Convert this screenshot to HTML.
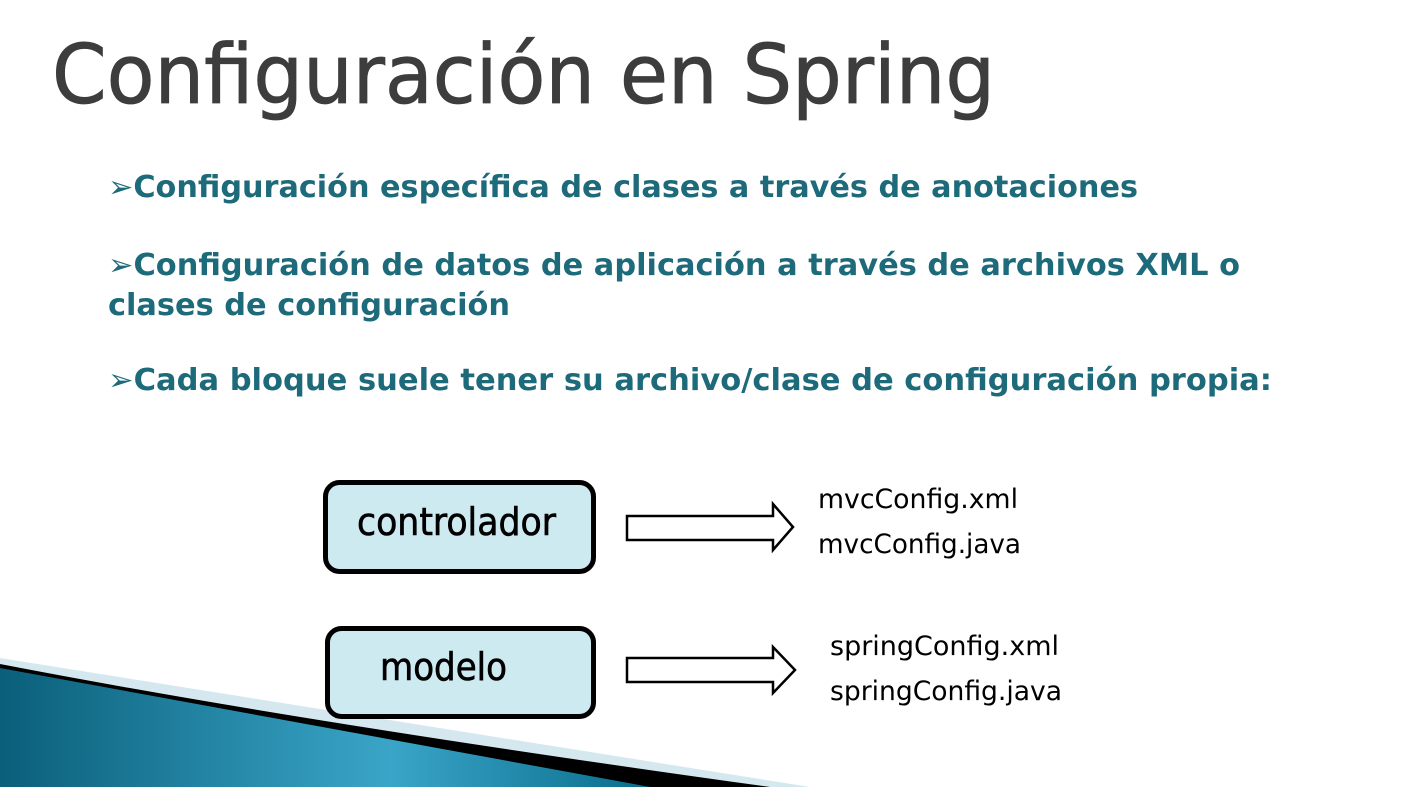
<!DOCTYPE html>
<html><head><meta charset="utf-8"><style>
html,body{margin:0;padding:0;background:#fff;width:1408px;height:787px;overflow:hidden}
</style></head><body>
<svg width="1408" height="787" viewBox="0 0 1408 787" xmlns="http://www.w3.org/2000/svg">
<defs>
<linearGradient id="bl" x1="0" y1="0" x2="1" y2="0">
<stop offset="0" stop-color="#0a5f7a"/><stop offset="0.6" stop-color="#3aa5c8"/><stop offset="1" stop-color="#0a6d8c"/>
</linearGradient>
</defs>
<!-- bottom-left decoration -->
<path d="M0,658 L810,787 L0,787 Z" fill="#d5e8ef"/>
<path d="M0,664 Q300,722 770,787 L0,787 Z" fill="#000"/>
<path d="M0,668 L650,787 L0,787 Z" fill="url(#bl)"/>
<!-- title -->
<text x="52" y="103" font-family="DejaVu Sans Condensed, DejaVu Sans, sans-serif" font-size="82" fill="#3d3d3d" stroke="#3d3d3d" stroke-width="0.8" textLength="943" lengthAdjust="spacingAndGlyphs">Configuración en Spring</text>
<!-- bullets -->
<g font-family="DejaVu Sans, sans-serif" font-weight="bold" font-size="30" fill="#1d6a7a">
<text x="108" y="197" textLength="1030" lengthAdjust="spacingAndGlyphs">➢Configuración específica de clases a través de anotaciones</text>
<text x="108" y="275" textLength="1132" lengthAdjust="spacingAndGlyphs">➢Configuración de datos de aplicación a través de archivos XML o</text>
<text x="108" y="315" textLength="402" lengthAdjust="spacingAndGlyphs">clases de configuración</text>
<text x="108" y="390" textLength="1164" lengthAdjust="spacingAndGlyphs">➢Cada bloque suele tener su archivo/clase de configuración propia:</text>
</g>
<!-- boxes -->
<rect x="325.5" y="482.5" width="268" height="89" rx="14" fill="#cdeaf1" stroke="#000" stroke-width="5"/>
<rect x="327.5" y="628.5" width="266" height="88" rx="14" fill="#cdeaf1" stroke="#000" stroke-width="5"/>
<g font-family="DejaVu Sans Condensed, DejaVu Sans, sans-serif" font-size="38" fill="#000" stroke="#000" stroke-width="0.6">
<text x="357" y="535" textLength="199" lengthAdjust="spacingAndGlyphs">controlador</text>
<text x="380" y="680" textLength="127" lengthAdjust="spacingAndGlyphs">modelo</text>
</g>
<!-- arrows -->
<polygon points="627,516 773,516 773,504 793,527 773,550 773,540 627,540" fill="#fff" stroke="#000" stroke-width="2.5"/>
<polygon points="627,658 773,658 773,647 795,670 773,693 773,682 627,682" fill="#fff" stroke="#000" stroke-width="2.5"/>
<!-- file labels -->
<g font-family="DejaVu Sans Condensed, DejaVu Sans, sans-serif" font-size="27" fill="#000">
<text x="818" y="508" textLength="200" lengthAdjust="spacingAndGlyphs">mvcConfig.xml</text>
<text x="818" y="553" textLength="203" lengthAdjust="spacingAndGlyphs">mvcConfig.java</text>
<text x="830" y="655" textLength="229" lengthAdjust="spacingAndGlyphs">springConfig.xml</text>
<text x="830" y="700" textLength="232" lengthAdjust="spacingAndGlyphs">springConfig.java</text>
</g>
</svg>
</body></html>
